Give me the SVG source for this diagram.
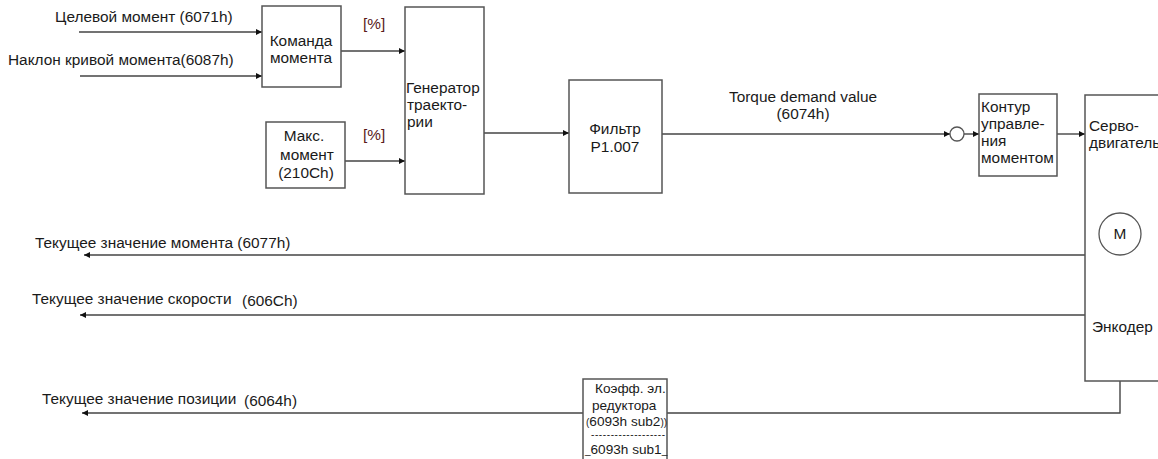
<svg xmlns="http://www.w3.org/2000/svg" width="1158" height="459" viewBox="0 0 1158 459">
<defs>
<marker id="ah" markerUnits="userSpaceOnUse" markerWidth="7" markerHeight="7" refX="6" refY="3" orient="auto">
<path d="M0,0 L6,3 L0,6 z" fill="#111"/>
</marker>
</defs>
<style>
text{font-family:"Liberation Sans",Arial,sans-serif;font-size:15.4px;fill:#1a1a1a}
.box{fill:#fff;stroke:#555;stroke-width:1.5}
.ln{fill:none;stroke:#444;stroke-width:1.4}
.ar{marker-end:url(#ah)}
.pc{fill:#5a1a1a}
.mid{text-anchor:middle}
.kf{font-size:13.6px}
.sm{font-size:10px}
</style>
<rect width="1158" height="459" fill="#fff"/>
<g id="connectors">
<line class="ln ar" x1="79" y1="32" x2="262" y2="32"/>
<line class="ln ar" x1="80" y1="76" x2="262" y2="76"/>
<line class="ln ar" x1="341" y1="51" x2="405" y2="51"/>
<line class="ln ar" x1="345" y1="161" x2="405" y2="161"/>
<line class="ln ar" x1="484" y1="133" x2="569" y2="133"/>
<line class="ln ar" x1="662" y1="134" x2="950" y2="134"/>
<line class="ln ar" x1="964" y1="134" x2="979" y2="134"/>
<line class="ln ar" x1="1057" y1="134" x2="1085" y2="134"/>
<line class="ln ar" x1="1085" y1="255" x2="84" y2="255"/>
<line class="ln ar" x1="1085" y1="315" x2="80" y2="315"/>
<polyline class="ln" points="1120,381 1120,413 667,413"/>
<line class="ln ar" x1="583" y1="413" x2="82" y2="413"/>
</g>
<g id="labels">
<text x="55" y="22">Целевой момент (6071h)</text>
<text x="8" y="65">Наклон кривой момента(6087h)</text>
<text x="363" y="29" class="pc">[%]</text>
<text x="363" y="140" class="pc">[%]</text>
<text x="803" y="102" class="mid">Torque demand value</text>
<text x="803" y="119" class="mid">(6074h)</text>
<text x="35" y="248">Текущее значение момента (6077h)</text>
<text x="32" y="304">Текущее значение скорости</text>
<text x="242" y="306">(606Ch)</text>
<text x="42" y="404">Текущее значение позиции</text>
<text x="244" y="406">(6064h)</text>
</g>
<g id="node-komanda">
<rect class="box" x="262" y="6" width="79" height="81"/>
<text x="301" y="46" class="mid">Команда</text>
<text x="301" y="63" class="mid">момента</text>
</g>
<g id="node-generator">
<rect class="box" x="405" y="7" width="79" height="187"/>
<text x="406" y="93">Генератор</text>
<text x="407" y="110">траекто-</text>
<text x="407" y="127">рии</text>
</g>
<g id="node-maks">
<rect class="box" x="266" y="122" width="79" height="66"/>
<text x="304" y="141" class="mid">Макс.</text>
<text x="307" y="160" class="mid">момент</text>
<text x="306" y="178" class="mid">(210Ch)</text>
</g>
<g id="node-filter">
<rect class="box" x="569" y="80" width="93" height="113"/>
<text x="615" y="134" class="mid">Фильтр</text>
<text x="615" y="152" class="mid">P1.007</text>
</g>
<g id="node-sum">
<circle cx="957" cy="134" r="7" fill="#fff" stroke="#555" stroke-width="1.3"/>
</g>
<g id="node-kontur">
<rect class="box" x="979" y="94" width="78" height="82"/>
<text x="981" y="112">Контур</text>
<text x="981" y="129">управле-</text>
<text x="981" y="146">ния</text>
<text x="981" y="163">моментом</text>
</g>
<g id="node-servo">
<rect class="box" x="1085" y="95" width="90" height="286"/>
<text x="1089" y="131">Серво-</text>
<text x="1089" y="148">двигатель</text>
<circle cx="1120" cy="234" r="21" fill="#fff" stroke="#555" stroke-width="1.3"/>
<text x="1120" y="239" class="mid">M</text>
<text x="1092" y="332">Энкодер</text>
</g>
<g id="node-koeff">
<rect class="box" x="583" y="379" width="84" height="90"/>
<text x="595" y="393" class="kf">Коэфф. эл.</text>
<text x="592" y="410" class="kf">редуктора</text>
<text x="586" y="426" class="kf"><tspan class="sm">(</tspan>6093h sub2<tspan class="sm">))</tspan></text>
<text x="591" y="438" class="sm" textLength="74">-------------------</text>
<text x="585" y="454" class="kf"><tspan class="sm">_</tspan>6093h sub1<tspan class="sm">_</tspan></text>
</g>
</svg>
